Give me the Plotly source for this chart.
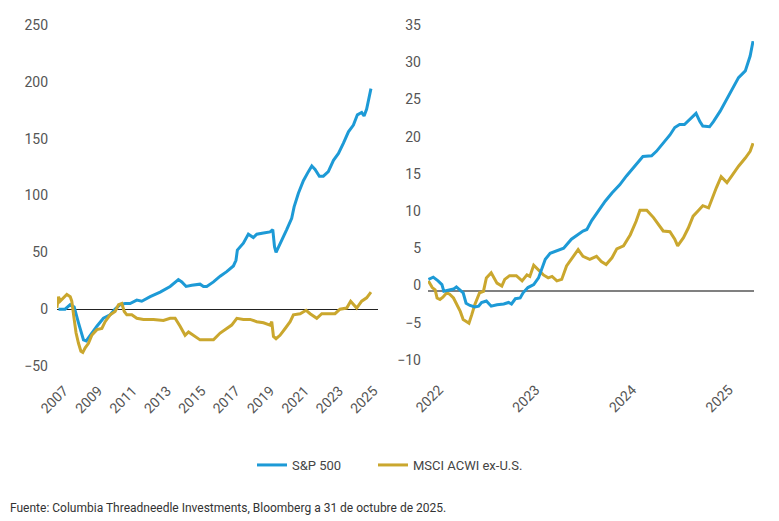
import plotly.graph_objects as go

# ---- Left panel (2007-2025), cumulative relative returns (%) ----
sp_left_x = [2006.68, 2007.06, 2007.36, 2007.59, 2007.84, 2008.13, 2008.29, 2008.52, 2008.91, 2009.29,
             2009.68, 2009.97, 2010.26, 2010.55, 2010.84, 2011.23, 2011.52, 2012.01, 2012.59, 2013.17,
             2013.65, 2013.85, 2014.10, 2014.43, 2014.91, 2015.11, 2015.30, 2015.69, 2016.08, 2016.46,
             2016.85, 2017.00, 2017.08, 2017.43, 2017.72, 2018.01, 2018.21, 2018.60, 2018.98, 2019.14,
             2019.24, 2019.33, 2019.56, 2019.95, 2020.24, 2020.38, 2020.63, 2020.92, 2021.21, 2021.41,
             2021.60, 2021.85, 2022.08, 2022.37, 2022.67, 2022.96, 2023.25, 2023.54, 2023.83, 2024.06,
             2024.31, 2024.45, 2024.60, 2024.85]
sp_left_y = [0, 0, 4, 2, -12, -27, -28, -23, -15, -8,
             -5, 0, 4, 5, 5, 8, 7, 11, 15, 20,
             26, 24, 20, 21, 22, 20, 20, 24, 29, 33,
             38, 43, 52, 58, 66, 63, 66, 67, 68, 70,
             55, 50, 57, 70, 80, 90, 102, 113, 121, 126,
             123, 117, 117, 121, 131, 137, 146, 156, 162, 171,
             173, 170, 176, 194]

ms_left_x = [2006.58, 2006.68, 2006.77, 2006.97, 2007.16, 2007.36, 2007.45, 2007.59, 2007.70, 2007.84,
             2007.98, 2008.09, 2008.23, 2008.42, 2008.61, 2008.91, 2009.20, 2009.39, 2009.68, 2009.97,
             2010.17, 2010.36, 2010.50, 2010.65, 2010.94, 2011.23, 2011.62, 2012.20, 2012.78, 2013.17,
             2013.46, 2013.75, 2014.04, 2014.24, 2014.53, 2014.91, 2015.30, 2015.69, 2016.08, 2016.46,
             2016.75, 2017.05, 2017.43, 2017.82, 2018.21, 2018.60, 2018.98, 2019.08, 2019.18, 2019.33,
             2019.56, 2019.86, 2020.15, 2020.34, 2020.73, 2021.08, 2021.31, 2021.70, 2021.99, 2022.37,
             2022.76, 2023.05, 2023.44, 2023.67, 2023.83, 2024.02, 2024.31, 2024.60, 2024.85]
ms_left_y = [1, 11, 7, 10, 13, 11, 7, -9, -21, -30,
             -37, -38, -34, -30, -23, -18, -17, -11, -5, -2,
             4, 5, -2, -5, -5, -8, -9, -9, -10, -8,
             -8, -15, -23, -20, -23, -27, -27, -27, -21, -17,
             -14, -8, -9, -9, -11, -12, -14, -11, -24, -26,
             -23, -17, -11, -5, -4, -1, -4, -8, -4, -4,
             -4, 0, 1, 7, 4, 1, 7, 10, 15]

left_ticks = [2007, 2009, 2011, 2013, 2015, 2017, 2019, 2021, 2023, 2025]
left_yticks = [-50, 0, 50, 100, 150, 200, 250]

# ---- Right panel (2022-2025) ----
sp_right_x = [2021.89, 2021.94, 2021.99, 2022.03, 2022.05, 2022.10, 2022.15, 2022.18, 2022.22, 2022.25,
              2022.28, 2022.32, 2022.37, 2022.41, 2022.44, 2022.49, 2022.54, 2022.60, 2022.67, 2022.72,
              2022.75, 2022.79, 2022.84, 2022.87, 2022.92, 2022.98, 2023.03, 2023.06, 2023.10, 2023.15,
              2023.22, 2023.29, 2023.37, 2023.44, 2023.49, 2023.53, 2023.58, 2023.65, 2023.72, 2023.79,
              2023.87, 2023.94, 2024.03, 2024.11, 2024.20, 2024.25, 2024.32, 2024.39, 2024.44, 2024.49,
              2024.54, 2024.60, 2024.66, 2024.70, 2024.73, 2024.80, 2024.84, 2024.91, 2024.98, 2025.03,
              2025.10, 2025.17, 2025.22, 2025.25]
sp_right_y = [1.5, 1.8, 1.3, 0.8, -0.1, 0.0, 0.2, 0.5, 0.1, -0.3,
              -1.7, -2.0, -2.2, -2.1, -1.6, -1.4, -2.1, -1.9, -1.8, -1.6,
              -1.8, -1.1, -1.0, -0.3, 0.4, 0.8, 1.7, 2.8, 4.2, 5.0,
              5.4, 5.7, 6.9, 7.5, 8.0, 8.2, 9.4, 10.7, 12.0, 13.1,
              14.2, 15.4, 16.7, 18.0, 18.1, 18.7, 19.8, 20.9, 21.9, 22.3,
              22.3, 23.0, 23.8, 22.7, 22.1, 22.0, 22.7, 24.1, 25.7, 27.0,
              28.6, 29.5, 31.5, 33.5]

ms_right_x = [2021.89, 2021.93, 2021.96, 2021.98, 2022.01, 2022.04, 2022.08, 2022.11, 2022.15, 2022.18,
              2022.22, 2022.25, 2022.29, 2022.31, 2022.34, 2022.37, 2022.42, 2022.46, 2022.49, 2022.54,
              2022.60, 2022.65, 2022.68, 2022.73, 2022.80, 2022.86, 2022.91, 2022.94, 2022.98, 2023.03,
              2023.08, 2023.13, 2023.17, 2023.22, 2023.27, 2023.32, 2023.37, 2023.44, 2023.49, 2023.56,
              2023.63, 2023.68, 2023.73, 2023.79, 2023.84, 2023.91, 2023.98, 2024.04, 2024.08, 2024.15,
              2024.22, 2024.27, 2024.32, 2024.39, 2024.44, 2024.47, 2024.53, 2024.58, 2024.63, 2024.68,
              2024.73, 2024.79, 2024.82, 2024.87, 2024.92, 2024.98, 2025.03, 2025.10, 2025.17, 2025.22,
              2025.25]
ms_right_y = [1.3, 0.4, 0.1, -1.0, -1.2, -0.9, -0.3, -0.5, -1.0, -1.7,
              -2.8, -3.9, -4.3, -4.4, -3.2, -1.9, -0.3, -0.1, 1.7, 2.4,
              1.0, 0.6, 1.5, 2.0, 2.0, 1.3, 2.1, 1.9, 3.4, 2.8,
              2.1, 1.7, 1.9, 1.3, 1.5, 3.3, 4.2, 5.5, 4.6, 4.2,
              4.6, 3.9, 3.5, 4.4, 5.6, 6.0, 7.5, 9.3, 10.8, 10.8,
              9.8, 8.9, 8.0, 7.9, 6.9, 6.0, 7.1, 8.4, 10.0, 10.7,
              11.4, 11.1, 12.2, 13.8, 15.3, 14.5, 15.4, 16.7, 17.8, 18.7,
              19.8]

right_ticks = [2022, 2023, 2024, 2025]
right_yticks = [-10, -5, 0, 5, 10, 15, 20, 25, 30, 35]

series_names = ["S&P 500", "MSCI ACWI ex-U.S."]
source_text = "Fuente: Columbia Threadneedle Investments, Bloomberg a 31 de octubre de 2025."

BLUE = "#1d9ad6"
GOLD = "#caa72e"
FONT = "Roboto, Arial, sans-serif"
OFF = 8  # page body margin
W, H = 779 - OFF, 521 - OFF

fig = go.Figure()
fig.add_trace(go.Scatter(x=sp_left_x, y=sp_left_y, mode="lines", name=series_names[0],
                         line=dict(color=BLUE, width=3), xaxis="x", yaxis="y",
                         legendgroup="sp", legend="legend"))
fig.add_trace(go.Scatter(x=ms_left_x, y=ms_left_y, mode="lines", name=series_names[1],
                         line=dict(color=GOLD, width=3), xaxis="x", yaxis="y",
                         legendgroup="ms", legend="legend2"))
fig.add_trace(go.Scatter(x=ms_right_x, y=ms_right_y, mode="lines", name=series_names[1],
                         line=dict(color=GOLD, width=3), xaxis="x2", yaxis="y2",
                         legendgroup="ms", legend="legend2", showlegend=False))
fig.add_trace(go.Scatter(x=sp_right_x, y=sp_right_y, mode="lines", name=series_names[0],
                         line=dict(color=BLUE, width=3), xaxis="x2", yaxis="y2",
                         legendgroup="sp", legend="legend", showlegend=False))

def fx(p):
    return (p - OFF) / W

def fy(p):
    return 1 - (p - OFF) / H

tickfont = dict(family=FONT, size=14, color="#555555")
legfont = dict(family=FONT, size=13, color="#444444")

fig.update_layout(
    width=W, height=H,
    margin=dict(l=0, r=0, t=0, b=0, pad=0),
    paper_bgcolor="white", plot_bgcolor="white",
    font=dict(family=FONT, color="#444444"),
    showlegend=True,
    legend=dict(orientation="h", x=fx(252), xanchor="left", y=fy(465), yanchor="middle",
                font=legfont, itemwidth=30),
    legend2=dict(orientation="h", x=fx(373), xanchor="left", y=fy(465), yanchor="middle",
                 font=legfont, itemwidth=30),
    xaxis=dict(domain=[fx(57), fx(378)], range=[2006.59, 2025.26], tickvals=left_ticks,
               ticktext=[str(t) for t in left_ticks], tickangle=-45, tickfont=tickfont,
               ticklabelstandoff=13,
               showgrid=False, zeroline=False, showline=False, ticks="", anchor="y",
               automargin=False),
    yaxis=dict(domain=[fy(366), fy(25)], range=[-50, 250], tickvals=left_yticks,
               tickfont=tickfont, ticklabelstandoff=8,
               showgrid=False, zeroline=True, zerolinecolor="#222222",
               zerolinewidth=1, showline=False, ticks="", anchor="x", automargin=False),
    xaxis2=dict(domain=[fx(428), fx(754)], range=[2021.886, 2025.26], tickvals=right_ticks,
                ticktext=[str(t) for t in right_ticks], tickangle=-45, tickfont=tickfont,
                ticklabelstandoff=13,
                showgrid=False, zeroline=False, showline=False, ticks="", anchor="y2",
                automargin=False),
    yaxis2=dict(domain=[fy(365), fy(30)], range=[-10, 35], tickvals=right_yticks,
                tickfont=tickfont, ticklabelstandoff=6, ticklabelshift=-5,
                showgrid=False, zeroline=True, zerolinecolor="#808080",
                zerolinewidth=1.5, showline=False, ticks="", anchor="x2", automargin=False),
    annotations=[dict(text=source_text, xref="paper", yref="paper", x=fx(8), y=fy(508),
                      xanchor="left", yanchor="middle", showarrow=False,
                      font=dict(family=FONT, size=12, color="#333333"))],
)

fig.write_html("out.html")
